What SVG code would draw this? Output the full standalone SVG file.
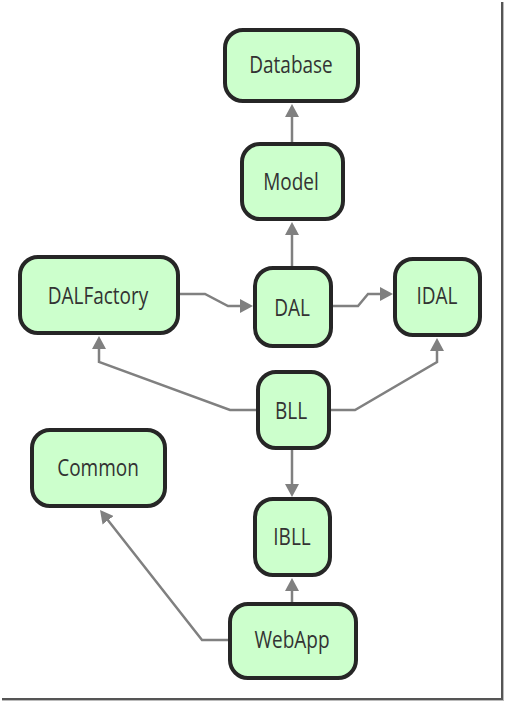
<svg xmlns="http://www.w3.org/2000/svg" width="506" height="703" viewBox="0 0 506 703">
<style>
.box{fill:#ccffcc;stroke:#262626;stroke-width:4}
.t{font-family:"Open Sans","Noto Sans","DejaVu Sans",sans-serif;font-size:19px;fill:#333;text-anchor:middle}
.c{fill:none;stroke:#808080;stroke-width:2.5;marker-end:url(#ah)}
</style>
<defs>
<marker id="ah" markerUnits="userSpaceOnUse" markerWidth="13" markerHeight="14" refX="9" refY="7" orient="auto">
<path d="M0,0 L13,7 L0,14 z" fill="#808080"/>
</marker>
</defs>
<rect x="0" y="0" width="506" height="703" fill="#fff"/>
<g id="frame">
<line x1="502" y1="2" x2="502" y2="700" stroke="#555" stroke-width="2"/>
<line x1="503.5" y1="2" x2="503.5" y2="701" stroke="#bbb" stroke-width="1"/>
<line x1="2" y1="699" x2="503" y2="699" stroke="#555" stroke-width="2"/>
<line x1="2" y1="700.5" x2="504" y2="700.5" stroke="#bbb" stroke-width="1"/>
</g>
<g id="connectors">
<path class="c" d="M292,142 L292,108"/>
<path class="c" d="M292,266 L292,226"/>
<path class="c" d="M180,294 L205,294 L228,306 L249,306"/>
<path class="c" d="M333,306 L358,306 L368,294 L389,294"/>
<path class="c" d="M256,410 L230,410 L99,362 L99,340"/>
<path class="c" d="M331,410 L355,410 L437,362 L437,342"/>
<path class="c" d="M292,450 L292,493"/>
<path class="c" d="M292,602 L292,582"/>
<path class="c" d="M228,640 L202,640 L102.5,513.2"/>
</g>
<g id="Database"><rect class="box" x="225" y="30" width="133" height="71" rx="18"/><text class="t" transform="translate(291,73) scale(1,1.22)">Database</text></g>
<g id="Model"><rect class="box" x="242" y="144" width="101" height="75" rx="18"/><text class="t" transform="translate(291,190) scale(1,1.22)">Model</text></g>
<g id="DALFactory"><rect class="box" x="20" y="257" width="158" height="76" rx="18"/><text class="t" transform="translate(98,304) scale(1,1.22)">DALFactory</text></g>
<g id="DAL"><rect class="box" x="255" y="268" width="76" height="78" rx="18"/><text class="t" transform="translate(292,316) scale(1,1.22)">DAL</text></g>
<g id="IDAL"><rect class="box" x="395" y="259" width="85" height="76" rx="18"/><text class="t" transform="translate(437,304) scale(1,1.22)">IDAL</text></g>
<g id="BLL"><rect class="box" x="258" y="372" width="71" height="76" rx="18"/><text class="t" transform="translate(291,419) scale(1,1.22)">BLL</text></g>
<g id="Common"><rect class="box" x="32" y="430" width="133" height="76" rx="18"/><text class="t" transform="translate(98,476) scale(1,1.22)">Common</text></g>
<g id="IBLL"><rect class="box" x="255" y="499" width="75" height="76" rx="18"/><text class="t" transform="translate(292,545) scale(1,1.22)">IBLL</text></g>
<g id="WebApp"><rect class="box" x="230" y="604" width="126" height="74" rx="18"/><text class="t" transform="translate(292,648) scale(1,1.22)">WebApp</text></g>
</svg>
